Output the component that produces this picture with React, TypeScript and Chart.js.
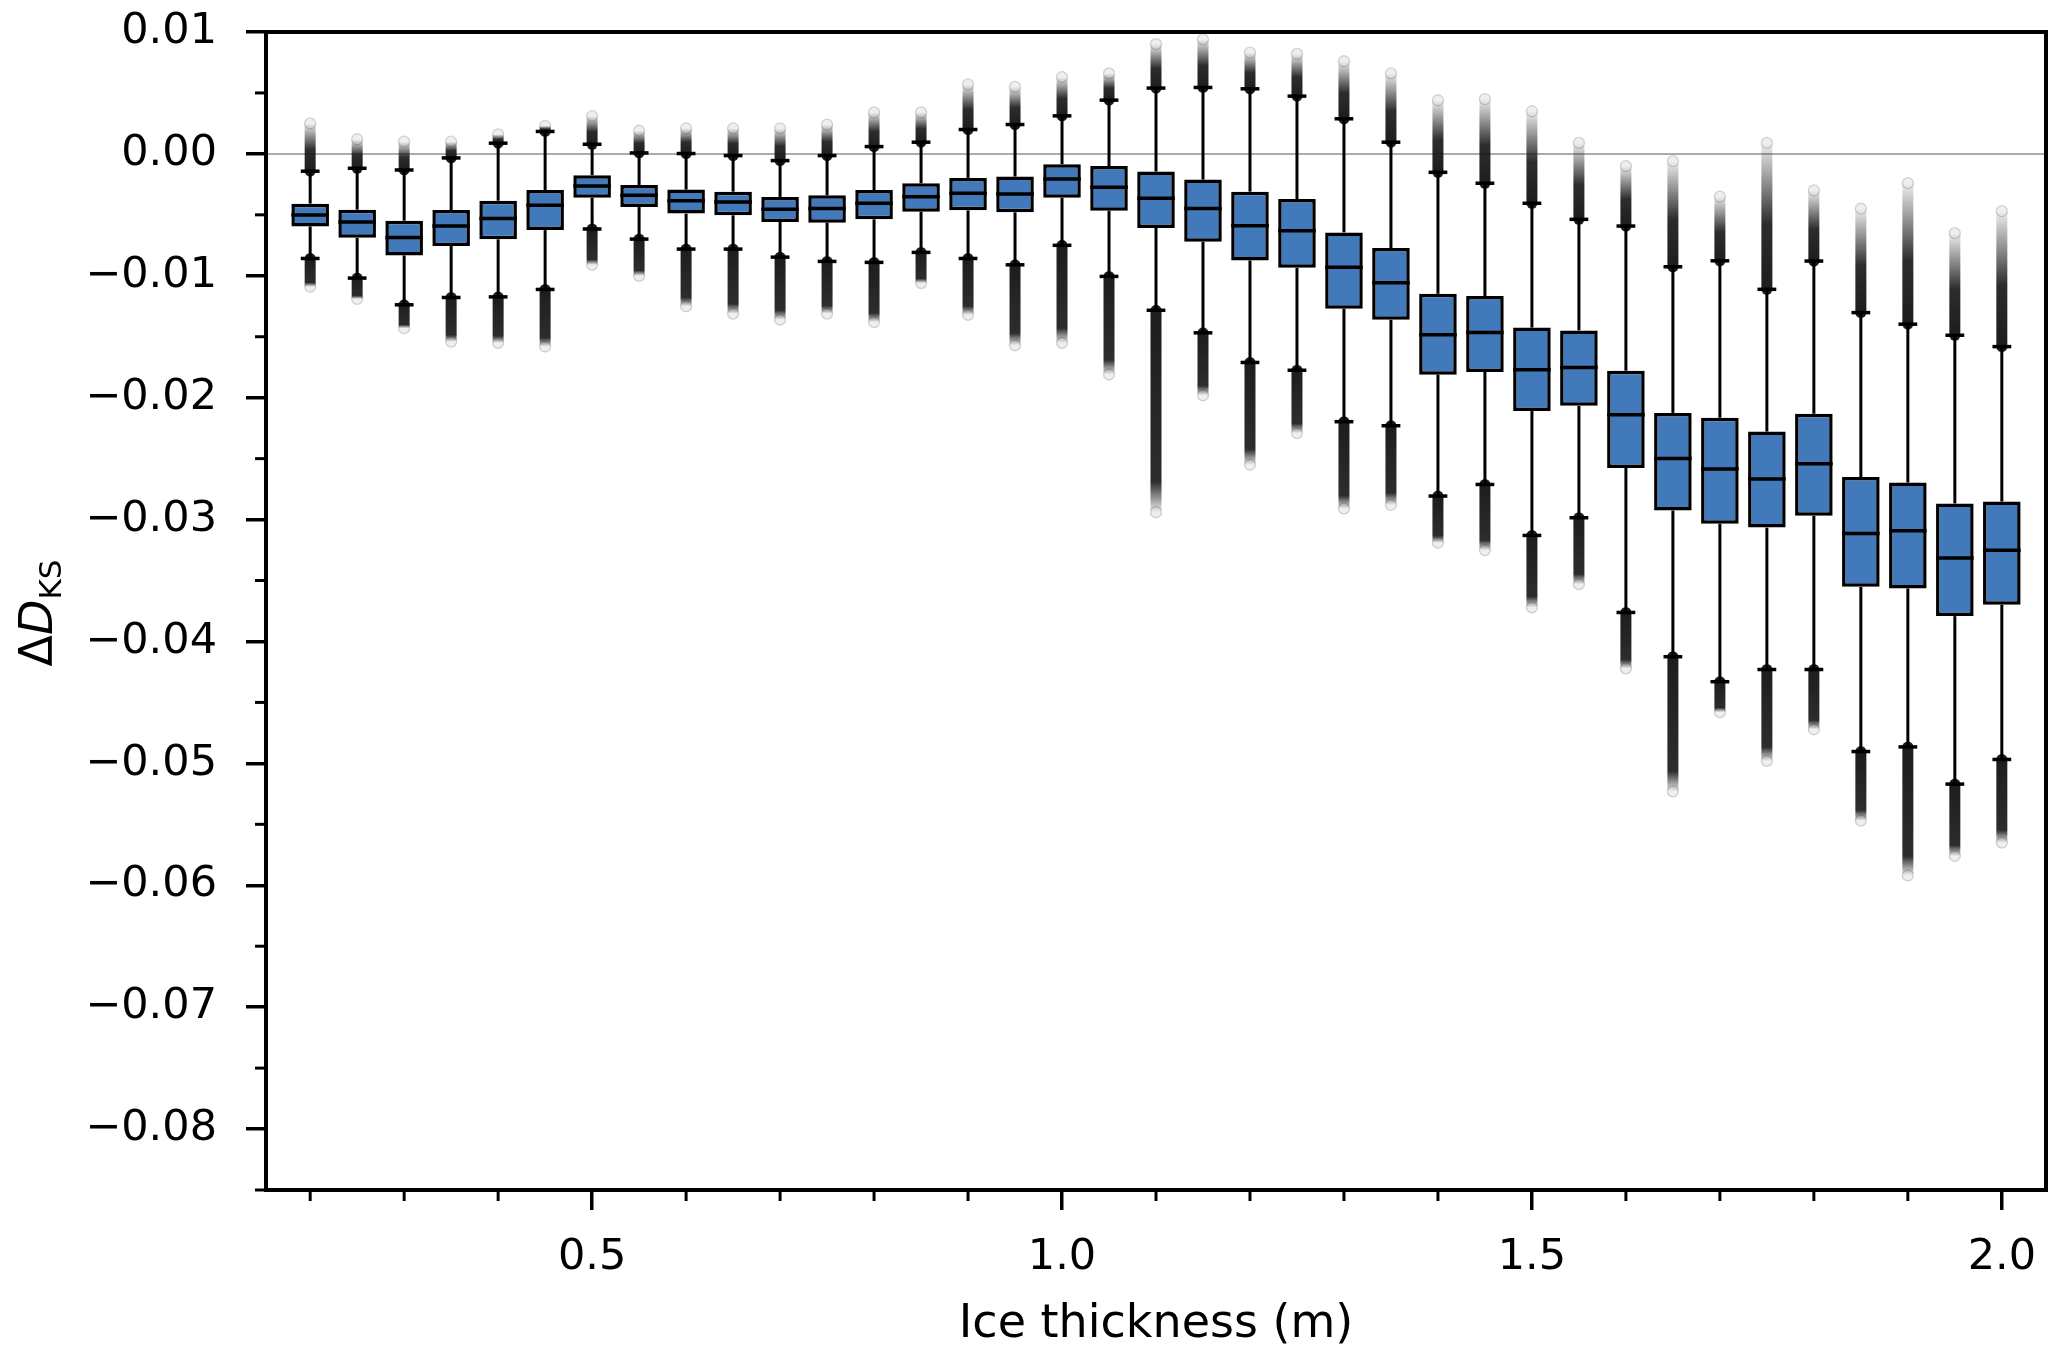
import React, { useEffect, useRef } from "react";
import { Chart, registerables } from "chart.js";

Chart.register(...registerables);

// ---- data ----
const positions: number[] = [
  0.2, 0.25, 0.3, 0.35, 0.4, 0.45, 0.5, 0.55, 0.6, 0.65, 0.7, 0.75, 0.8, 0.85, 0.9, 0.95,
  1.0, 1.05, 1.1, 1.15, 1.2, 1.25, 1.3, 1.35, 1.4, 1.45, 1.5, 1.55, 1.6, 1.65, 1.7, 1.75,
  1.8, 1.85, 1.9, 1.95, 2.0,
];
const q1: number[] = [
  -0.00595, -0.00688, -0.00833, -0.00756, -0.00701, -0.00625, -0.00359, -0.00436, -0.0049, -0.00504,
  -0.00559, -0.00564, -0.00537, -0.00474, -0.00463, -0.00479, -0.0036, -0.00466, -0.00608, -0.0072,
  -0.00874, -0.00934, -0.0127, -0.01361, -0.01811, -0.01789, -0.0211, -0.02067, -0.02576, -0.02926,
  -0.03034, -0.03066, -0.02969, -0.03552, -0.03565, -0.03792, -0.03698,
];
const medians: number[] = [
  -0.00501, -0.00559, -0.00685, -0.00592, -0.00529, -0.00422, -0.00263, -0.0034, -0.00384, -0.00395,
  -0.00455, -0.00447, -0.00405, -0.00351, -0.00323, -0.00329, -0.00205, -0.00274, -0.00364, -0.00447,
  -0.00589, -0.0063, -0.00929, -0.01058, -0.01484, -0.01465, -0.0177, -0.01753, -0.02139, -0.02498,
  -0.02586, -0.02667, -0.02541, -0.03114, -0.03092, -0.03316, -0.03251,
];
const q3: number[] = [
  -0.00408, -0.00458, -0.00548, -0.0046, -0.00384, -0.00296, -0.00175, -0.00255, -0.00293, -0.0031,
  -0.00353, -0.0034, -0.00296, -0.00241, -0.00197, -0.00186, -0.00085, -0.00099, -0.00145, -0.00211,
  -0.0031, -0.0037, -0.00644, -0.00773, -0.01148, -0.01166, -0.01425, -0.01448, -0.01779, -0.02125,
  -0.02165, -0.02278, -0.02132, -0.02651, -0.02696, -0.02868, -0.02852,
];
const whiskerLow: number[] = [
  -0.00858, -0.01019, -0.01238, -0.01178, -0.01173, -0.01112, -0.00616, -0.00699, -0.00781, -0.00781,
  -0.00847, -0.00882, -0.0089, -0.00808, -0.00858, -0.0091, -0.0075, -0.01005, -0.01283, -0.01468,
  -0.01711, -0.01775, -0.02197, -0.0223, -0.02807, -0.02712, -0.0313, -0.02985, -0.03762, -0.04125,
  -0.0433, -0.0423, -0.0423, -0.04903, -0.04865, -0.0517, -0.04968,
];
const whiskerHigh: number[] = [
  -0.00142, -0.00118, -0.00132, -0.00033, 0.00088, 0.00184, 0.00079, 0.00008, 0.00003, -0.00014,
  -0.00055, -0.00014, 0.0006, 0.00096, 0.002, 0.00241, 0.00312, 0.00441, 0.0054, 0.00545,
  0.00534, 0.00474, 0.00288, 0.00096, -0.00151, -0.00241, -0.00405, -0.00537, -0.00592, -0.00926,
  -0.00877, -0.01111, -0.00879, -0.01302, -0.01397, -0.01488, -0.01581,
];
const flierLow: number[] = [
  -0.0109, -0.0119, -0.0143, -0.0154, -0.0155, -0.0158, -0.0091, -0.01, -0.0125, -0.0131,
  -0.0136, -0.0131, -0.0138, -0.0106, -0.0132, -0.0157, -0.0155, -0.0181, -0.0294, -0.0198,
  -0.0255, -0.0229, -0.0291, -0.0288, -0.0319, -0.0325, -0.0372, -0.0353, -0.0422, -0.0523,
  -0.0458, -0.0498, -0.0472, -0.0547, -0.0592, -0.0576, -0.0565,
];
const flierHigh: number[] = [
  0.0025, 0.0012, 0.001, 0.001, 0.0016, 0.0023, 0.0031, 0.0019, 0.0021, 0.0021,
  0.0021, 0.0024, 0.0034, 0.0034, 0.0057, 0.0055, 0.0063, 0.0066, 0.009, 0.0094,
  0.0083, 0.0082, 0.0076, 0.0066, 0.0044, 0.0045, 0.0035, 0.0009, -0.001, -0.0006,
  -0.0035, 0.0009, -0.003, -0.0045, -0.0024, -0.0065, -0.0047,
];

const yTickValues: number[] = [0.01, 0, -0.01, -0.02, -0.03, -0.04, -0.05, -0.06, -0.07, -0.08];
const yTickLabels: string[] = [
  "0.01", "0.00", "\u22120.01", "\u22120.02", "\u22120.03", "\u22120.04", "\u22120.05", "\u22120.06", "\u22120.07", "\u22120.08",
];
const yMinorTicks: number[] = [0.005, -0.005, -0.015, -0.025, -0.035, -0.045, -0.055, -0.065, -0.075, -0.085];
const xTickValues: number[] = [0.5, 1.0, 1.5, 2.0];
const xTickLabels: string[] = ["0.5", "1.0", "1.5", "2.0"];
const xMinorTicks: number[] = [0.2, 0.3, 0.4, 0.6, 0.7, 0.8, 0.9, 1.1, 1.2, 1.3, 1.4, 1.6, 1.7, 1.8, 1.9];

const xTitle = "Ice thickness (m)";
const FONT = "'DejaVu Sans', 'Liberation Sans', sans-serif";
const BOX_COLOR = "#4279ba";
const CAP_WIDTH = 0.02;

function line(ctx: CanvasRenderingContext2D, x1: number, y1: number, x2: number, y2: number) {
  ctx.beginPath();
  ctx.moveTo(x1, y1);
  ctx.lineTo(x2, y2);
  ctx.stroke();
}

function drawFlier(ctx: CanvasRenderingContext2D, cx: number, yStart: number, yEnd: number, solidFrac: number) {
  const len = Math.abs(yEnd - yStart);
  if (len < 1) return;
  const g = ctx.createLinearGradient(0, yStart, 0, yEnd);
  g.addColorStop(0, "rgba(22,22,22,0.97)");
  g.addColorStop(solidFrac, "rgba(22,22,22,0.9)");
  g.addColorStop(1, "rgba(22,22,22,0.07)");
  ctx.strokeStyle = g;
  ctx.lineWidth = 11;
  ctx.lineCap = "round";
  line(ctx, cx, yStart, cx, yEnd);
  ctx.lineCap = "butt";
  ctx.strokeStyle = "rgba(0,0,0,0.16)";
  ctx.lineWidth = 1.3;
  ctx.beginPath();
  ctx.arc(cx, yEnd, 5.5, 0, Math.PI * 2);
  ctx.stroke();
}

const boxPlugin = {
  id: "boxExtras",
  beforeDatasetsDraw(chart: any) {
    const { ctx, chartArea, scales } = chart;
    const x = scales.x;
    const y = scales.y;
    ctx.save();
    ctx.beginPath();
    ctx.rect(chartArea.left, chartArea.top, chartArea.right - chartArea.left, chartArea.bottom - chartArea.top);
    ctx.clip();
    // zero reference line
    const y0 = y.getPixelForValue(0);
    ctx.strokeStyle = "#ababab";
    ctx.lineWidth = 2;
    line(ctx, chartArea.left, y0, chartArea.right, y0);

    positions.forEach((p, i) => {
      const cx = x.getPixelForValue(p);
      const hw = (x.getPixelForValue(p + CAP_WIDTH / 2) - x.getPixelForValue(p - CAP_WIDTH / 2)) / 2;
      const yWh = y.getPixelForValue(whiskerHigh[i]);
      const yWl = y.getPixelForValue(whiskerLow[i]);
      drawFlier(ctx, cx, yWh, y.getPixelForValue(flierHigh[i]), 0.45);
      drawFlier(ctx, cx, yWl, y.getPixelForValue(flierLow[i]), 0.85);
      ctx.strokeStyle = "#000";
      ctx.lineWidth = 3;
      line(ctx, cx, y.getPixelForValue(q3[i]), cx, yWh);
      line(ctx, cx, y.getPixelForValue(q1[i]), cx, yWl);
      ctx.lineWidth = 3.5;
      line(ctx, cx - hw, yWh, cx + hw, yWh);
      line(ctx, cx - hw, yWl, cx + hw, yWl);
    });
    ctx.restore();
  },
  afterDatasetsDraw(chart: any) {
    const { ctx, scales } = chart;
    const x = scales.x;
    const y = scales.y;
    const meta = chart.getDatasetMeta(0);
    ctx.save();
    ctx.strokeStyle = "#000";
    ctx.lineWidth = 3.5;
    positions.forEach((p, i) => {
      const bar = meta.data[i];
      const half = bar ? bar.width / 2 : 18;
      const cx = x.getPixelForValue(p);
      const ym = y.getPixelForValue(medians[i]);
      line(ctx, cx - half, ym, cx + half, ym);
    });
    ctx.restore();
  },
  afterDraw(chart: any) {
    const { ctx, chartArea, scales } = chart;
    const x = scales.x;
    const y = scales.y;
    ctx.save();
    // minor ticks
    ctx.strokeStyle = "#000";
    ctx.lineWidth = 3;
    yMinorTicks.forEach((v) => {
      const py = y.getPixelForValue(v);
      line(ctx, chartArea.left - 11, py, chartArea.left, py);
    });
    xMinorTicks.forEach((v) => {
      const px = x.getPixelForValue(v);
      line(ctx, px, chartArea.bottom, px, chartArea.bottom + 11);
    });
    // spines
    ctx.lineWidth = 4;
    ctx.strokeRect(chartArea.left, chartArea.top, chartArea.right - chartArea.left, chartArea.bottom - chartArea.top);

    // x title
    ctx.fillStyle = "#000";
    ctx.font = `46px ${FONT}`;
    ctx.textAlign = "center";
    ctx.textBaseline = "alphabetic";
    ctx.fillText(xTitle, (chartArea.left + chartArea.right) / 2, 1337);

    // y title: Δ D_KS
    const F = 46;
    ctx.translate(52, 613);
    ctx.rotate(-Math.PI / 2);
    ctx.textAlign = "left";
    const fDelta = `${F}px ${FONT}`;
    const fD = `italic ${F}px ${FONT}`;
    const fSub = `${Math.round(F * 0.68)}px ${FONT}`;
    ctx.font = fDelta;
    const wDelta = ctx.measureText("\u0394").width;
    ctx.font = fD;
    const wD = ctx.measureText("D").width;
    ctx.font = fSub;
    const wSub = ctx.measureText("KS").width;
    const total = wDelta + wD + wSub;
    let u = -total / 2;
    ctx.font = fDelta;
    ctx.fillText("\u0394", u, 0);
    u += wDelta;
    ctx.font = fD;
    ctx.fillText("D", u, 0);
    u += wD;
    ctx.font = fSub;
    ctx.fillText("KS", u, 9);
    ctx.restore();
  },
};

export default function App() {
  const canvasRef = useRef<HTMLCanvasElement | null>(null);

  useEffect(() => {
    const canvas = canvasRef.current;
    if (!canvas) return;
    const data = positions.map((p, i) => ({ x: p, y: [q1[i], q3[i]] }));
    const chart = new Chart(canvas, {
      type: "bar",
      data: {
        datasets: [
          {
            data: data as any,
            backgroundColor: BOX_COLOR,
            borderColor: "#000",
            borderWidth: 3.5,
            borderSkipped: false,
            barPercentage: 0.8,
            categoryPercentage: 1.0,
          },
        ],
      },
      options: {
        responsive: false,
        animation: false,
        devicePixelRatio: 1,
        layout: { padding: { top: 32, right: 21, left: 0, bottom: 0 } },
        plugins: { legend: { display: false }, tooltip: { enabled: false }, title: { display: false } },
        scales: {
          x: {
            type: "linear",
            min: 0.153,
            max: 2.047,
            offset: false,
            afterFit: (scale: any) => {
              scale.height = 171;
              scale.paddingLeft = 0;
              scale.paddingRight = 0;
            },
            afterBuildTicks: (scale: any) => {
              scale.ticks = xTickValues.map((v) => ({ value: v }));
            },
            ticks: {
              autoSkip: false,
              maxRotation: 0,
              padding: 22,
              color: "#000",
              font: { family: FONT, size: 43 },
              callback: (value: any) => {
                const idx = xTickValues.findIndex((t) => Math.abs(t - Number(value)) < 1e-9);
                return idx >= 0 ? xTickLabels[idx] : "";
              },
            },
            grid: {
              display: true,
              offset: false,
              drawOnChartArea: false,
              drawTicks: true,
              tickLength: 20,
              lineWidth: 3.5,
              color: "#000",
            },
            border: { display: false },
          },
          y: {
            type: "linear",
            min: -0.085,
            max: 0.01,
            afterFit: (scale: any) => {
              scale.width = 266;
              scale.paddingTop = 0;
              scale.paddingBottom = 0;
            },
            afterBuildTicks: (scale: any) => {
              scale.ticks = yTickValues.map((v) => ({ value: v }));
            },
            ticks: {
              autoSkip: false,
              padding: 29,
              color: "#000",
              font: { family: FONT, size: 43 },
              callback: (value: any) => {
                const idx = yTickValues.findIndex((t) => Math.abs(t - Number(value)) < 1e-9);
                return idx >= 0 ? yTickLabels[idx] : "";
              },
            },
            grid: {
              display: true,
              offset: false,
              drawOnChartArea: false,
              drawTicks: true,
              tickLength: 20,
              lineWidth: 3.5,
              color: "#000",
            },
            border: { display: false },
          },
        },
      },
      plugins: [boxPlugin],
    });
    return () => chart.destroy();
  }, []);

  return (
    <div style={{ position: "absolute", left: 0, top: 0, width: 2067, height: 1361, background: "#fff" }}>
      <canvas ref={canvasRef} width={2067} height={1361} style={{ width: 2067, height: 1361, display: "block" }} />
    </div>
  );
}
